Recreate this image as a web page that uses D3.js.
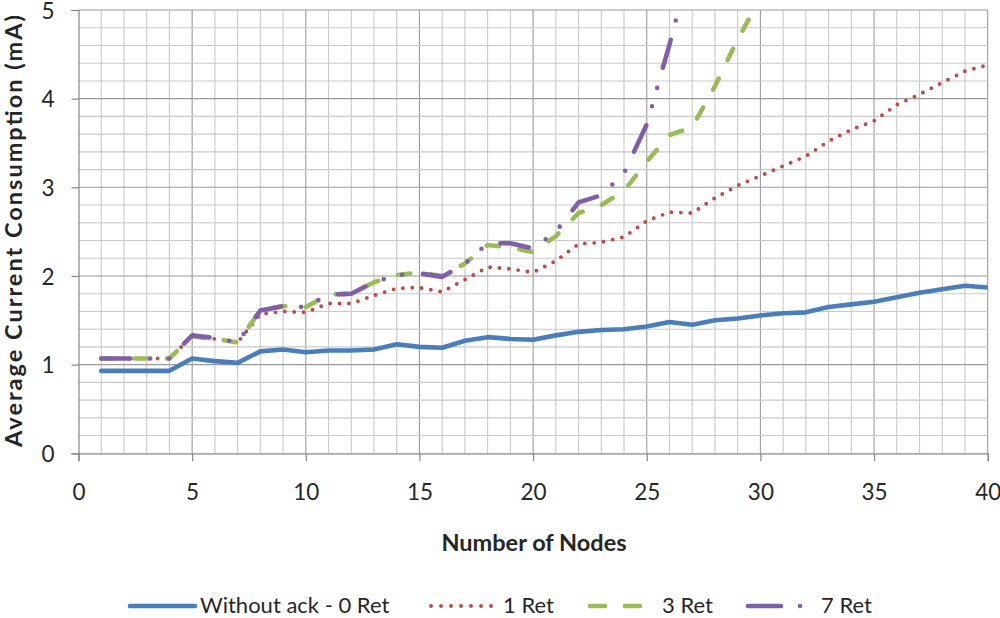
<!DOCTYPE html>
<html><head><meta charset="utf-8">
<script src="https://cdn.jsdelivr.net/npm/d3@7"></script>
<style>
body{margin:0;background:#fff}
svg{display:block}
text{font-family:Lato,"Open Sans",sans-serif;fill:#262626}
</style>
</head><body>
<svg id="chart" width="1000" height="618"></svg>
<script>
// ---- data ----
const nodes = d3.range(1, 41);
const ret0 = [0.93,0.93,0.93,0.93,1.07,1.04,1.02,1.15,1.17,1.14,1.16,1.16,1.17,1.23,1.20,1.19,1.27,1.31,1.29,1.28,
              1.33,1.37,1.39,1.40,1.43,1.48,1.45,1.50,1.52,1.555,1.58,1.59,1.65,1.68,1.71,1.76,1.81,1.85,1.89,1.87];
const ret1 = [1.07,1.07,1.07,1.07,1.32,1.29,1.25,1.57,1.60,1.59,1.69,1.69,1.78,1.86,1.87,1.82,1.96,2.10,2.08,2.04,
              2.17,2.36,2.38,2.44,2.62,2.72,2.71,2.88,3.02,3.13,3.24,3.35,3.52,3.65,3.75,3.93,4.05,4.18,4.31,4.38];
const ret3 = [1.07,1.07,1.07,1.07,1.32,1.29,1.25,1.61,1.66,1.65,1.79,1.80,1.93,2.01,2.04,2.00,2.14,2.35,2.32,2.27,
              2.45,2.71,2.80,2.96,3.29,3.59,3.68,4.14,4.67,5.13];
const ret7 = [1.07,1.07,1.07,1.07,1.33,1.30,1.25,1.61,1.66,1.65,1.79,1.80,1.93,2.01,2.03,1.99,2.14,2.37,2.37,2.31,
              2.50,2.83,2.91,3.16,3.71,4.61,5.60];
const seriesNames = ["Without ack - 0 Ret", "1 Ret", "3 Ret", "7 Ret"];
const seriesColors = ["#4A7EBB", "#BE4B48", "#9BBB59", "#7F5FA8"];
const xTicks = [0, 5, 10, 15, 20, 25, 30, 35, 40];
const yTicks = [0, 1, 2, 3, 4, 5];
const xTitle = "Number of Nodes";
const yTitle = "Average Current Consumption (mA)";

// ---- styles ----
const styles = [
  {w: 4.6, dash: null},
  {w: 3.9, dash: "0 9.4"},
  {w: 4.6, dash: "12.5 20.5"},
  {w: 4.6, dash: "29 20 0 19 0 21"}
];

const svg = d3.select("#chart");
const x = d3.scaleLinear().domain([0, 40]).range([78.5, 987.7]);
const y = d3.scaleLinear().domain([0, 5]).range([453.3, 10]);

// grid
const g = svg.append("g");
const minorCol = "#c9c9c9", majorCol = "#9a9a9a";
g.selectAll("line.vx").data(d3.range(1, 41)).join("line")
  .attr("x1", d => x(d)).attr("x2", d => x(d))
  .attr("y1", y(0)).attr("y2", y(5))
  .attr("stroke", d => d % 5 === 0 ? majorCol : minorCol).attr("stroke-width", 1.1);
g.selectAll("line.hy").data(d3.range(1, 26).map(i => i * 0.2)).join("line")
  .attr("x1", x(0)).attr("x2", x(40))
  .attr("y1", d => y(d)).attr("y2", d => y(d))
  .attr("stroke", d => Math.abs(d - Math.round(d)) < 1e-6 ? majorCol : minorCol).attr("stroke-width", 1.1);

// axes
const axisCol = "#868686";
const yAxis = svg.append("g").attr("transform", `translate(${x(0)},0)`)
  .call(d3.axisLeft(y).tickValues(yTicks).tickSize(7).tickPadding(17).tickFormat(d3.format("d")));
const xAxis = svg.append("g").attr("transform", `translate(0,${y(0)})`)
  .call(d3.axisBottom(x).tickValues(xTicks).tickSize(8).tickPadding(23).tickFormat(d3.format("d")));
[yAxis, xAxis].forEach(a => {
  a.select(".domain").attr("stroke", axisCol).attr("stroke-width", 1.2);
  a.selectAll(".tick line").attr("stroke", axisCol).attr("stroke-width", 1.2);
  a.selectAll(".tick text").style("font-size", "22.5px").attr("fill", "#262626").style("font-family", "Lato, 'Open Sans', sans-serif");
});
yAxis.selectAll(".tick text").attr("dy", "0.36em");

// lines
svg.append("clipPath").attr("id", "clip").append("rect")
  .attr("x", x(0)).attr("y", y(5)).attr("width", x(40) - x(0)).attr("height", y(0) - y(5));
const all = [ret0, ret1, ret3, ret7];
const line = d3.line().x(d => x(d.n)).y(d => y(d.v));
const lg = svg.append("g").attr("clip-path", "url(#clip)");
all.forEach((vals, i) => {
  const pts = vals.map((v, k) => ({n: nodes[k], v}));
  lg.append("path").datum(pts).attr("d", line)
    .attr("fill", "none").attr("stroke", seriesColors[i])
    .attr("stroke-width", styles[i].w)
    .attr("stroke-dasharray", styles[i].dash)
    .attr("stroke-linecap", "round").attr("stroke-linejoin", "round");
});

// titles
svg.append("text").attr("x", 534).attr("y", 543).attr("dy", "0.35em")
  .attr("text-anchor", "middle").style("font-size", "23.5px").style("font-weight", "bold").text(xTitle);
svg.append("text").attr("transform", "translate(14,231) rotate(-90)").attr("dy", "0.35em")
  .attr("text-anchor", "middle").style("font-size", "23.5px").style("font-weight", "bold")
  .attr("textLength", 432).attr("lengthAdjust", "spacing").text(yTitle);

// legend
const legendItems = [
  {x0: 130, x1: 195, tx: 200},
  {x0: 431, x1: 493, tx: 503},
  {x0: 590, x1: 640, tx: 662},
  {x0: 748, x1: 801, tx: 821}
];
const legY = 606;
const legDash = [null, "0 10", "15 20", "33 19 0 30"];
legendItems.forEach((it, i) => {
  svg.append("line").attr("x1", it.x0).attr("x2", it.x1).attr("y1", legY).attr("y2", legY)
    .attr("stroke", seriesColors[i]).attr("stroke-width", styles[i].w)
    .attr("stroke-dasharray", legDash[i]).attr("stroke-linecap", "round");
  svg.append("text").attr("x", it.tx).attr("y", 613)
    .style("font-size", "22px").text(seriesNames[i]);
});
</script>
</body></html>
